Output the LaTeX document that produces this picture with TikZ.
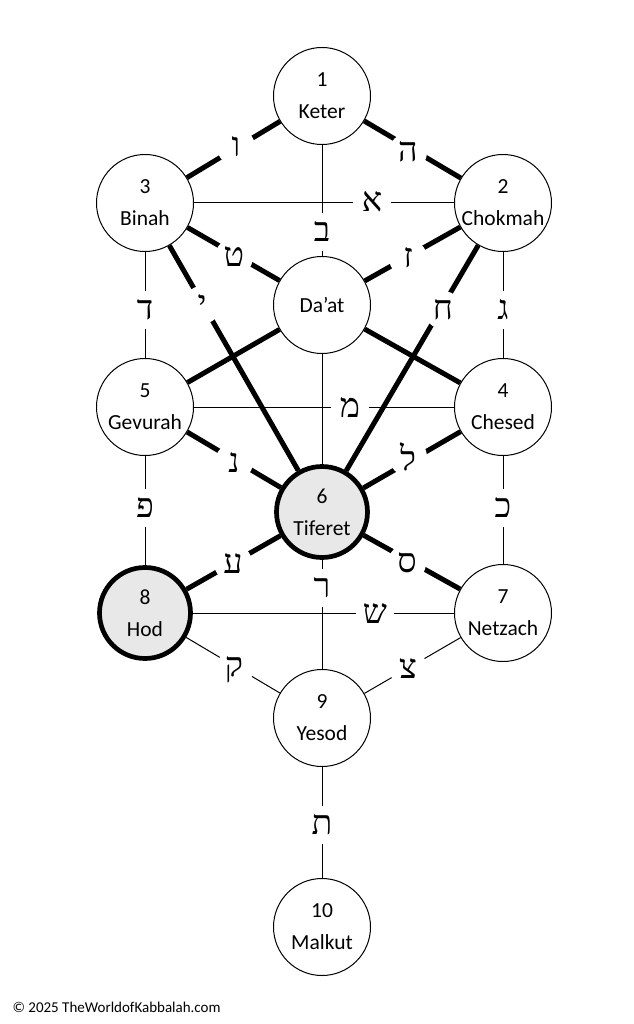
\documentclass[tikz,border=0pt]{standalone}
\usepackage{fontspec}
\setmainfont{Carlito}
\newfontfamily\hebfont[Script=Hebrew]{Liberation Serif}
\TeXXeTstate=1
\usetikzlibrary{backgrounds}
\tikzset{
  sef/.style={circle,draw=black,line width=1pt,fill=white,minimum size=97pt,inner sep=0pt,align=center,font=\fontsize{21.5}{32}\selectfont},
  sefhi/.style={sef,line width=4.7pt,fill=black!9,minimum size=91pt},
  thinpath/.style={line width=1pt},
  thickpath/.style={line width=5pt},
  lbl/.style={circle,fill=white,inner sep=0pt,minimum size=38pt,font=\hebfont\fontsize{34}{34}\selectfont},
}
\newcommand{\heb}[1]{\beginR #1\endR}
\begin{document}
\begin{tikzpicture}[x=1pt,y=-1pt]
\useasboundingbox (0,0) rectangle (633,1024);
% sefirot
\node[sef] (keter)   at (322,96)  {1\\Keter};
\node[sef] (binah)   at (145,203) {3\\Binah};
\node[sef] (chokmah) at (503,203) {2\\Chokmah};
\node[sef] (daat)    at (322,305) {Da’at};
\node[sef] (gevurah) at (145,407) {5\\Gevurah};
\node[sef] (chesed)  at (503,407) {4\\Chesed};
\node[sefhi] (tiferet) at (322,512) {6\\Tiferet};
\node[sefhi] (hod)   at (145,613) {8\\Hod};
\node[sef] (netzach) at (503,613) {7\\Netzach};
\node[sef] (yesod)   at (322,718) {9\\Yesod};
\node[sef] (malkut)  at (322,927) {10\\Malkut};
\node[anchor=west,font=\fontsize{15}{16}\selectfont] (copy) at (9,1007) {© 2025 TheWorldofKabbalah.com};
\begin{scope}[on background layer]
\fill[white] (0,0) rectangle (633,1024);
% thick paths
\draw[thickpath] (keter) -- (binah);
\draw[thickpath] (keter) -- (chokmah);
\draw[thickpath] (binah) -- (daat);
\draw[thickpath] (chokmah) -- (daat);
\draw[thickpath] (binah) -- (tiferet);
\draw[thickpath] (chokmah) -- (tiferet);
\draw[thickpath] (daat) -- (gevurah);
\draw[thickpath] (daat) -- (chesed);
\draw[thickpath] (gevurah) -- (tiferet);
\draw[thickpath] (chesed) -- (tiferet);
\draw[thickpath] (tiferet) -- (hod);
\draw[thickpath] (tiferet) -- (netzach);
% thin paths
\draw[thinpath] (keter) -- (daat);
\draw[thinpath] (binah) -- (chokmah);
\draw[thinpath] (binah) -- (gevurah);
\draw[thinpath] (chokmah) -- (chesed);
\draw[thinpath] (gevurah) -- (chesed);
\draw[thinpath] (daat) -- (tiferet);
\draw[thinpath] (gevurah) -- (hod);
\draw[thinpath] (chesed) -- (netzach);
\draw[thinpath] (tiferet) -- (yesod);
\draw[thinpath] (hod) -- (netzach);
\draw[thinpath] (hod) -- (yesod);
\draw[thinpath] (netzach) -- (yesod);
\draw[thinpath] (yesod) -- (malkut);
% letters
\node[lbl] (lvav)   at (236,147) {\heb{ו}};
\node[lbl] (lhe)    at (408,152) {\heb{ה}};
\node[lbl] (lalef)  at (372,202) {\heb{א}};
\node[lbl] (lbet)   at (322,232) {\heb{ב}};
\node[lbl] (ltet)   at (234,257) {\heb{ט}};
\node[lbl] (lzayin) at (408,258) {\heb{ז}};
\node[lbl] (ldalet) at (145,310) {\heb{ד}};
\node[lbl] (lyod)   at (202,305) {\heb{י}};
\node[lbl] (lhet)   at (443,310) {\heb{ח}};
\node[lbl] (lgimel) at (503,310) {\heb{ג}};
\node[lbl] (lmem)   at (350,408) {\heb{מ}};
\node[lbl] (lnun)   at (234,462) {\heb{נ}};
\node[lbl] (llamed) at (408,457) {\heb{ל}};
\node[lbl] (lpe)    at (145,508) {\heb{פ}};
\node[lbl] (lkaf)   at (503,508) {\heb{כ}};
\node[lbl] (layin)  at (233,563) {\heb{ע}};
\node[lbl] (lsamekh) at (407,563) {\heb{ס}};
\node[lbl] (lresh)  at (322,588) {\heb{ר}};
\node[lbl] (lshin)  at (375,613) {\heb{ש}};
\node[lbl] (lqof)   at (234,670) {\heb{ק}};
\node[lbl] (ltsadi) at (408,668) {\heb{צ}};
\node[lbl] (ltav)   at (322,825) {\heb{ת}};
\end{scope}
\end{tikzpicture}
\end{document}
